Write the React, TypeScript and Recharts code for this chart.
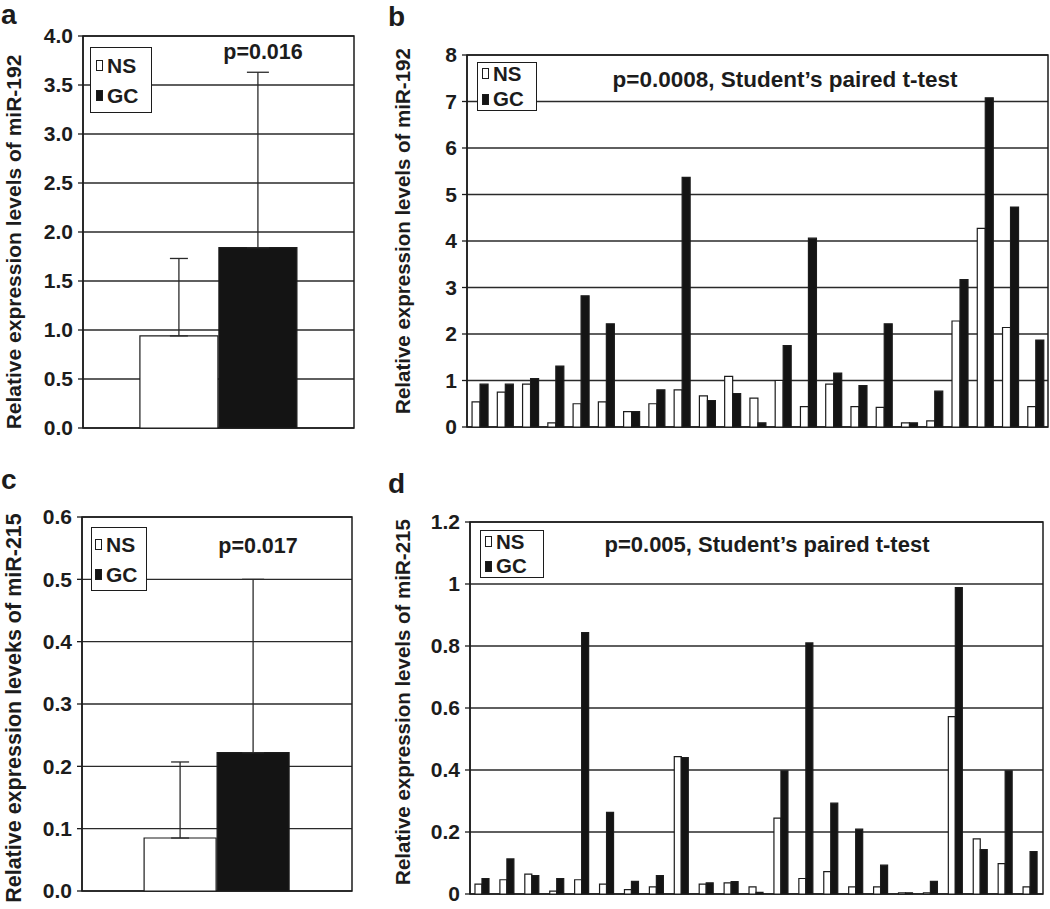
import React from 'react';
import { BarChart, Bar, XAxis, YAxis, CartesianGrid, ErrorBar, ReferenceArea, Legend } from 'recharts';

// ---------- data ----------
const summaryCategories = ['mean'];
const aNS = [0.94];
const aGC = [1.84];
const aNSErr = [0.79];
const aGCErr = [1.79];

const cNS = [0.085];
const cGC = [0.222];
const cNSErr = [0.122];
const cGCErr = [0.278];

const sampleLabels = ['1', '2', '3', '4', '5', '6', '7', '8', '9', '10', '11', '12', '13', '14', '15', '16', '17', '18', '19', '20', '21', '22', '23'];
const bNS = [0.54, 0.75, 0.92, 0.09, 0.5, 0.54, 0.33, 0.5, 0.8, 0.67, 1.09, 0.62, 1.0, 0.44, 0.92, 0.44, 0.42, 0.09, 0.13, 2.28, 4.27, 2.14, 0.44];
const bGC = [0.92, 0.92, 1.04, 1.31, 2.82, 2.22, 0.33, 0.8, 5.37, 0.57, 0.72, 0.09, 1.75, 4.06, 1.16, 0.89, 2.22, 0.09, 0.77, 3.17, 7.08, 4.73, 1.87];
const dNS = [0.032, 0.046, 0.064, 0.009, 0.046, 0.032, 0.014, 0.023, 0.443, 0.032, 0.036, 0.023, 0.245, 0.05, 0.072, 0.023, 0.023, 0.004, 0.004, 0.572, 0.178, 0.098, 0.023];
const dGC = [0.05, 0.113, 0.059, 0.05, 0.843, 0.263, 0.041, 0.059, 0.44, 0.036, 0.04, 0.005, 0.397, 0.81, 0.293, 0.209, 0.093, 0.004, 0.041, 0.988, 0.143, 0.397, 0.137];

const aTicks = [0, 0.5, 1, 1.5, 2, 2.5, 3, 3.5, 4];
const bTicks = [0, 1, 2, 3, 4, 5, 6, 7, 8];
const cTicks = [0, 0.1, 0.2, 0.3, 0.4, 0.5, 0.6];
const dTicks = [0, 0.2, 0.4, 0.6, 0.8, 1, 1.2];

const seriesNames = ['NS', 'GC'];

// ---------- build rows ----------
const aData = summaryCategories.map((c, i) => ({ label: c, NS: aNS[i], GC: aGC[i], nsErr: [0, aNSErr[i]], gcErr: [0, aGCErr[i]] }));
const cData = summaryCategories.map((c, i) => ({ label: c, NS: cNS[i], GC: cGC[i], nsErr: [0, cNSErr[i]], gcErr: [0, cGCErr[i]] }));
const bData = sampleLabels.map((c, i) => ({ label: c, NS: bNS[i], GC: bGC[i] }));
const dData = sampleLabels.map((c, i) => ({ label: c, NS: dNS[i], GC: dGC[i] }));

const FONT = '"Liberation Sans", Arial, Helvetica, sans-serif';
const INK = '#1c1c1c';
const BLACK = '#141414';

type PanelCfg = {
  letter: string;
  letterPos: { left: number; top: number };
  left: number;
  top: number;
  width: number;
  height: number;
  margin: { top: number; right: number; bottom: number; left: number };
  yWidth: number;
  tickSize: number;
  data: any[];
  ticks: number[];
  fmt: (v: number) => string;
  yLabel: string;
  yLabelPos: { x: number; y: number; size: number };
  legend: { left: number; top: number; width: number; height: number; rowGap: number; fontSize: number; padLeft: number };
  pText: string;
  pPos: { x: number; y: number; size: number };
  barCategoryGap: string;
  barGap: number;
  errors: boolean;
};

const makeYLabel = (text: string, x: number, y: number, size: number) => () => (
  <text
    x={x}
    y={y}
    transform={`rotate(-90 ${x} ${y})`}
    textAnchor="middle"
    dominantBaseline="central"
    fontSize={size}
    fontWeight="bold"
    fontFamily={FONT}
    fill={INK}
  >
    {text}
  </text>
);

const makeLegend = (cfg: PanelCfg['legend']) => () => (
  <div
    style={{
      width: cfg.width,
      height: cfg.height,
      boxSizing: 'border-box',
      border: `1.5px solid ${INK}`,
      background: '#fff',
      display: 'flex',
      flexDirection: 'column',
      justifyContent: 'center',
      gap: cfg.rowGap,
      paddingLeft: cfg.padLeft,
      fontFamily: FONT,
      fontWeight: 'bold',
      fontSize: cfg.fontSize,
      color: INK,
      lineHeight: 1,
    }}
  >
    {seriesNames.map((n, i) => (
      <div key={n} style={{ display: 'flex', alignItems: 'center' }}>
        <span
          style={{
            display: 'inline-block',
            width: 7,
            height: 11,
            boxSizing: 'border-box',
            border: `1px solid ${INK}`,
            background: i === 0 ? '#fff' : BLACK,
            marginRight: 4,
          }}
        />
        <span>{n}</span>
      </div>
    ))}
  </div>
);

function Panel({ cfg }: { cfg: PanelCfg }) {
  const maxY = cfg.ticks[cfg.ticks.length - 1];
  return (
    <div style={{ position: 'absolute', left: cfg.left, top: cfg.top, width: cfg.width, height: cfg.height }}>
      <BarChart
        width={cfg.width}
        height={cfg.height}
        data={cfg.data}
        margin={cfg.margin}
        barCategoryGap={cfg.barCategoryGap}
        barGap={cfg.barGap}
      >
        <CartesianGrid vertical={false} stroke="#2a2a2a" strokeWidth={1.3} />
        <XAxis dataKey="label" hide />
        <YAxis
          width={cfg.yWidth}
          domain={[0, maxY]}
          ticks={cfg.ticks}
          interval={0}
          tickFormatter={cfg.fmt}
          axisLine={{ stroke: INK, strokeWidth: 1.5 }}
          tickLine={{ stroke: INK, strokeWidth: 1.3 }}
          tickSize={cfg.tickSize}
          tickMargin={5}
          tick={{ fill: INK, fontSize: 21, fontWeight: 'bold', fontFamily: FONT }}
          label={makeYLabel(cfg.yLabel, cfg.yLabelPos.x, cfg.yLabelPos.y, cfg.yLabelPos.size)}
        />
        <Bar dataKey="NS" fill="#ffffff" stroke={INK} strokeWidth={1.2} isAnimationActive={false}>
          {cfg.errors && <ErrorBar dataKey="nsErr" width={9} stroke="#2a2a2a" strokeWidth={1.3} direction="y" />}
        </Bar>
        <Bar dataKey="GC" fill={BLACK} stroke={INK} strokeWidth={1.2} isAnimationActive={false}>
          {cfg.errors && <ErrorBar dataKey="gcErr" width={11} stroke="#2a2a2a" strokeWidth={1.3} direction="y" />}
        </Bar>
        <ReferenceArea y1={0} y2={maxY} fill="none" stroke={INK} strokeWidth={1.5} ifOverflow="visible" />
        <Legend
          layout="horizontal"
          verticalAlign="middle"
          align="center"
          wrapperStyle={{ left: cfg.legend.left, top: cfg.legend.top, width: cfg.legend.width, height: cfg.legend.height }}
          content={makeLegend(cfg.legend)}
        />
      </BarChart>
      <div
        style={{
          position: 'absolute',
          left: cfg.pPos.x,
          top: cfg.pPos.y,
          transform: 'translate(-50%, -50%)',
          whiteSpace: 'nowrap',
          fontFamily: FONT,
          fontWeight: 'bold',
          fontSize: cfg.pPos.size,
          color: INK,
          lineHeight: 1,
        }}
      >
        {cfg.pText}
      </div>
      <div
        style={{
          position: 'absolute',
          left: cfg.letterPos.left,
          top: cfg.letterPos.top,
          fontFamily: FONT,
          fontWeight: 'bold',
          fontSize: 28,
          color: INK,
          lineHeight: 1,
        }}
      >
        {cfg.letter}
      </div>
    </div>
  );
}

const fmt1 = (v: number) => v.toFixed(1);
const fmtPlain = (v: number) => String(v);

const RX = 380;

const panels: PanelCfg[] = [
  {
    letter: 'a',
    letterPos: { left: 1, top: 1 },
    left: 0,
    top: 0,
    width: 370,
    height: 445,
    margin: { top: 36, right: 16, bottom: 17, left: 0 },
    yWidth: 83,
    tickSize: 5,
    data: aData,
    ticks: aTicks,
    fmt: fmt1,
    yLabel: 'Relative expression levels of miR-192',
    yLabelPos: { x: 13, y: 242, size: 21 },
    legend: { left: 90, top: 47, width: 62, height: 66, rowGap: 9, fontSize: 21, padLeft: 5 },
    pText: 'p=0.016',
    pPos: { x: 263, y: 53, size: 21.5 },
    barCategoryGap: '21%',
    barGap: 1,
    errors: true,
  },
  {
    letter: 'b',
    letterPos: { left: 388 - RX, top: 3 },
    left: RX,
    top: 0,
    width: 1050 - RX,
    height: 445,
    margin: { top: 55, right: 2, bottom: 18, left: 0 },
    yWidth: 467 - RX,
    tickSize: 5,
    data: bData,
    ticks: bTicks,
    fmt: fmtPlain,
    yLabel: 'Relative expression levels of miR-192',
    yLabelPos: { x: 402 - RX, y: 231, size: 20.5 },
    legend: { left: 477 - RX, top: 62, width: 60, height: 49, rowGap: 5, fontSize: 20.5, padLeft: 4 },
    pText: 'p=0.0008, Student\u2019s paired t-test',
    pPos: { x: 785 - RX, y: 80, size: 22.5 },
    barCategoryGap: '20%',
    barGap: 0,
    errors: false,
  },
  {
    letter: 'c',
    letterPos: { left: 1, top: 6 },
    left: 0,
    top: 460,
    width: 370,
    height: 449,
    margin: { top: 57, right: 18, bottom: 18, left: 0 },
    yWidth: 82,
    tickSize: 5,
    data: cData,
    ticks: cTicks,
    fmt: fmt1,
    yLabel: 'Relative expression leveks of miR-215',
    yLabelPos: { x: 14, y: 248, size: 21.5 },
    legend: { left: 91, top: 67, width: 56, height: 64, rowGap: 9, fontSize: 21, padLeft: 3 },
    pText: 'p=0.017',
    pPos: { x: 258, y: 87, size: 21.5 },
    barCategoryGap: '23%',
    barGap: 1,
    errors: true,
  },
  {
    letter: 'd',
    letterPos: { left: 388 - RX, top: 10 },
    left: RX,
    top: 460,
    width: 1050 - RX,
    height: 449,
    margin: { top: 62, right: 7, bottom: 15, left: 0 },
    yWidth: 470 - RX,
    tickSize: 5,
    data: dData,
    ticks: dTicks,
    fmt: fmtPlain,
    yLabel: 'Relative expression levels of miR-215',
    yLabelPos: { x: 402 - RX, y: 242, size: 20.5 },
    legend: { left: 480 - RX, top: 70, width: 64, height: 48, rowGap: 4, fontSize: 20.5, padLeft: 4 },
    pText: 'p=0.005, Student\u2019s paired t-test',
    pPos: { x: 767 - RX, y: 85, size: 22 },
    barCategoryGap: '20%',
    barGap: 0,
    errors: false,
  },
];

export default function App() {
  return (
    <div style={{ position: 'absolute', left: 0, top: 0, width: 1050, height: 909, background: '#fff', fontFamily: FONT }}>
      {panels.map((p) => (
        <Panel key={p.letter} cfg={p} />
      ))}
    </div>
  );
}
